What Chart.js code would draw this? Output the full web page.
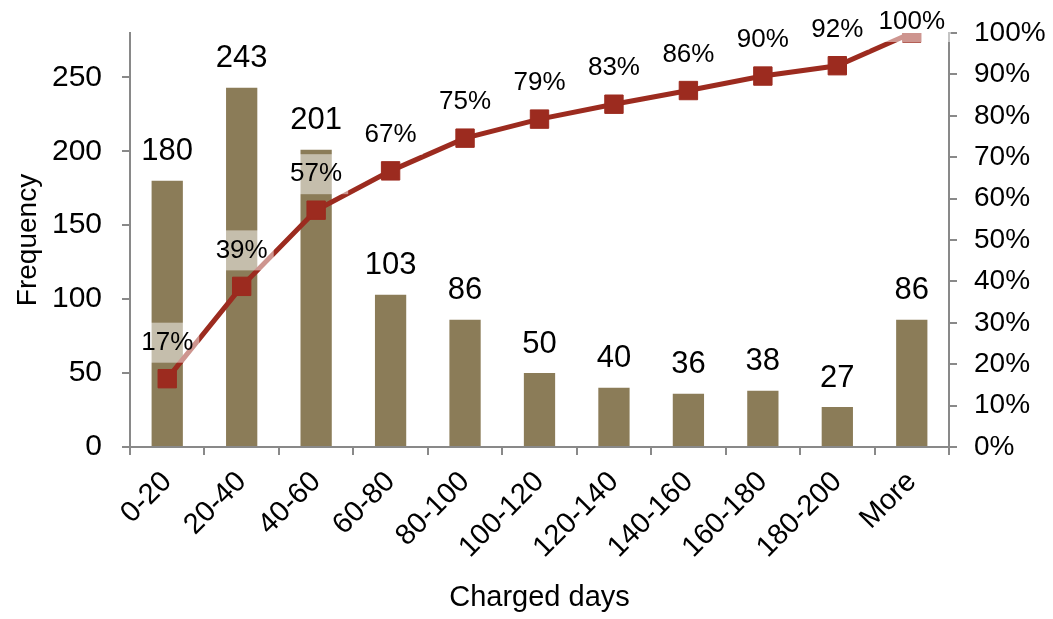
<!DOCTYPE html>
<html>
<head>
<meta charset="utf-8">
<script src="https://cdn.jsdelivr.net/npm/chart.js@4"></script>
<style>
  body { margin: 0; background: #fff; }
  #wrap { width: 1053px; height: 619px; }
</style>
</head>
<body>
<div id="wrap"><canvas id="grafico"></canvas></div>
<script>
const categorias = ['0-20', '20-40', '40-60', '60-80', '80-100', '100-120', '120-140', '140-160', '160-180', '180-200', 'More']
const frequencia = [180, 243, 201, 103, 86, 50, 40, 36, 38, 27, 86]
const acumulado = [16.5, 38.8, 57.2, 66.7, 74.6, 79.2, 82.8, 86.1, 89.6, 92.1, 100]

const fonte = '"Liberation Sans", Arial, sans-serif'
const cinza = '#898989'

// rotulos de dados (barras e percentuais)
const rotulos = {
  id: 'rotulos',
  afterDatasetsDraw(chart) {
    const ctx = chart.ctx
    ctx.save()
    ctx.textAlign = 'center'
    ctx.textBaseline = 'middle'
    ctx.fillStyle = '#000'
    ctx.font = '31px ' + fonte
    chart.getDatasetMeta(1).data.forEach((bar, i) => {
      ctx.fillText(String(frequencia[i]), bar.x, bar.y - 29)
    })
    ctx.font = '26px ' + fonte
    chart.getDatasetMeta(0).data.forEach((pt, i) => {
      const txt = Math.round(acumulado[i]) + '%'
      const y = Math.max(pt.y - 36, 22)
      const w = ctx.measureText(txt).width + 12
      ctx.fillStyle = 'rgba(255,255,255,0.5)'
      ctx.fillRect(pt.x - w / 2, y - 20, w, 40)
      ctx.fillStyle = '#000'
      ctx.fillText(txt, pt.x, y)
    })
    ctx.restore()
  }
}

// largura fixa dos eixos, sem folga extra em cima/embaixo
const fixarEixo = largura => s => {
  s.width = largura
  s.paddingTop = 0
  s.paddingBottom = 0
}

const grafico = new Chart(document.getElementById('grafico'), {
  data: {
    labels: categorias,
    datasets: [{
      type: 'line',
      data: acumulado.map(v => v / 100),
      yAxisID: 'y1',
      borderColor: '#9C2B1F',
      backgroundColor: '#9C2B1F',
      borderWidth: 5,
      pointStyle: 'rect',
      pointRadius: 13,
      pointBorderWidth: 1,
      tension: 0,
      order: 0
    }, {
      type: 'bar',
      data: frequencia,
      yAxisID: 'y',
      backgroundColor: '#8B7C58',
      categoryPercentage: 1,
      barPercentage: 0.42,
      order: 1
    }]
  },
  options: {
    responsive: true,
    maintainAspectRatio: false,
    animation: false,
    layout: { padding: { top: 33, left: 0, right: 0, bottom: 0 } },
    plugins: { legend: { display: false }, tooltip: { enabled: false } },
    scales: {
      x: {
        grid: { drawOnChartArea: false, color: cinza, lineWidth: 2, tickLength: 8 },
        border: { color: cinza, width: 2 },
        ticks: { color: '#000', font: { family: fonte, size: 29 }, maxRotation: 45, minRotation: 45, labelOffset: 0, padding: 10 },
        title: { display: true, text: 'Charged days', color: '#000', font: { family: fonte, size: 29 }, padding: { top: 0, bottom: 4 } },
        afterFit: s => { s.height = 172 }
      },
      y: {
        position: 'left',
        min: 0,
        max: 280,
        grid: { drawOnChartArea: false, color: cinza, lineWidth: 2, tickLength: 8 },
        border: { color: cinza, width: 2 },
        ticks: { stepSize: 50, includeBounds: false, color: '#000', font: { family: fonte, size: 30 }, padding: 20 },
        title: { display: true, text: 'Frequency', color: '#000', font: { family: fonte, size: 28 }, padding: { top: 11 } },
        afterFit: fixarEixo(130)
      },
      y1: {
        position: 'right',
        min: 0,
        max: 1,
        grid: { drawOnChartArea: false, color: cinza, lineWidth: 2, tickLength: 8 },
        border: { color: cinza, width: 2 },
        ticks: { stepSize: 0.1, color: '#000', font: { family: fonte, size: 28 }, padding: 17,
          callback: v => Math.round(v * 100) + '%' },
        afterFit: fixarEixo(104)
      }
    }
  },
  plugins: [rotulos]
})
</script>
</body>
</html>
